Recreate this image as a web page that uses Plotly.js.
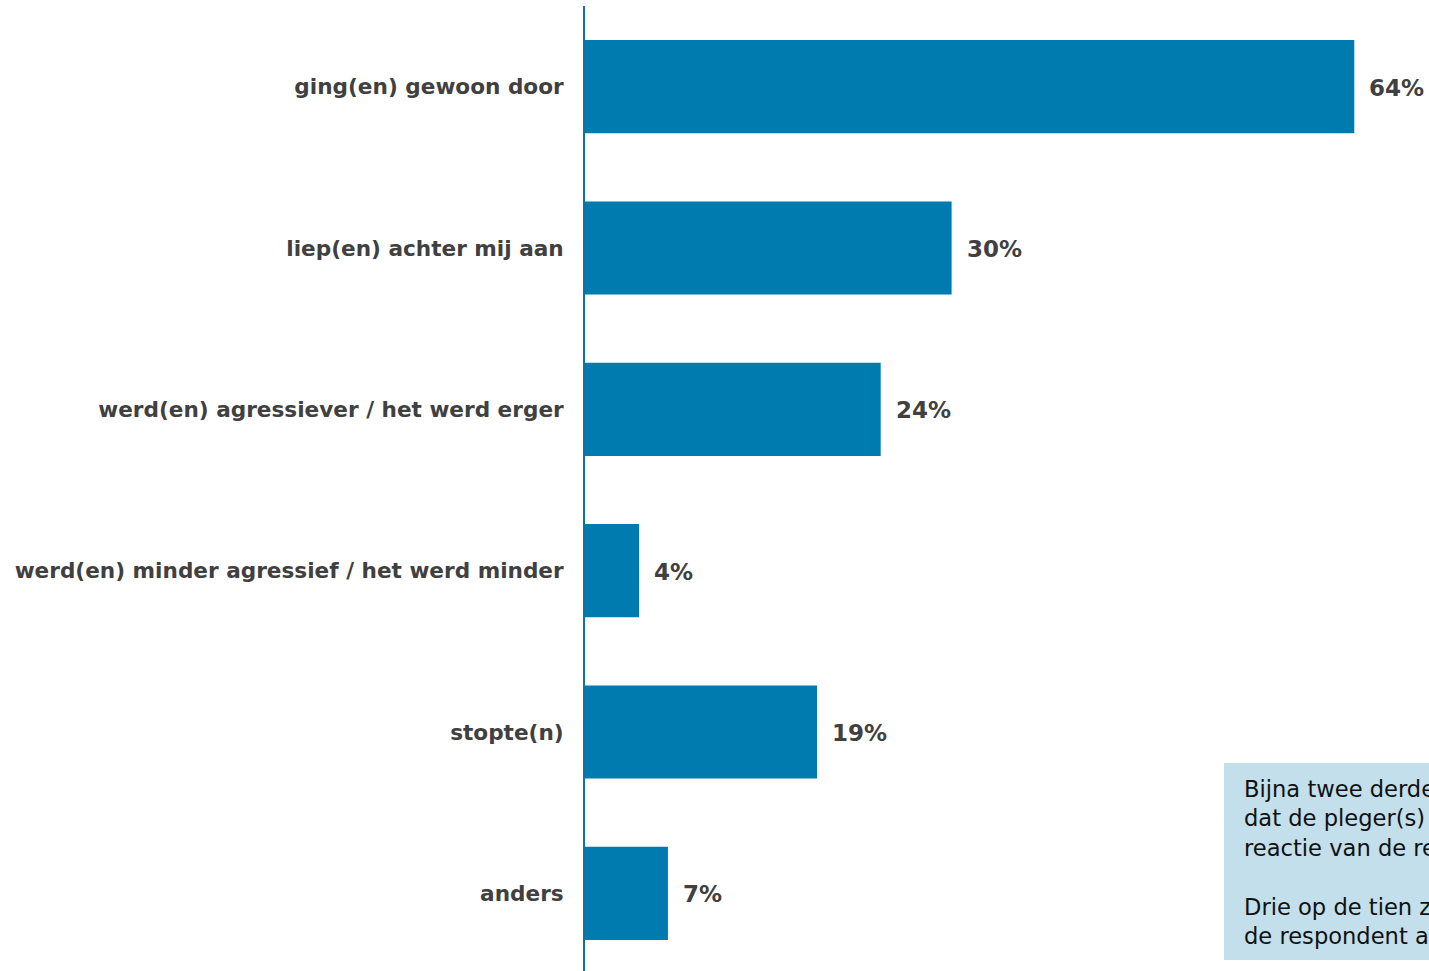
<!DOCTYPE html>
<html>
<head>
<meta charset="utf-8">
<script src="https://cdn.plot.ly/plotly-3.0.1.min.js"></script>
<style>html,body{margin:0;padding:0;background:#fff;overflow:hidden;}#chart{width:1429px;height:974px;}</style>
</head>
<body>
<div id="chart"></div>
<script>
const categories = [
  "ging(en) gewoon door",
  "liep(en) achter mij aan",
  "werd(en) agressiever / het werd erger",
  "werd(en) minder agressief / het werd minder",
  "stopte(n)",
  "anders"
];
const values = [64.0, 30.5, 24.6, 4.5, 19.3, 6.9];
const valueLabels = ["64%", "30%", "24%", "4%", "19%", "7%"];
const noteText = "Bijna twee derde van de respondenten zegt<br>dat de pleger(s) gewoon doorging(en) na de<br>reactie van de respondent.<br><br>Drie op de tien zegt dat de pleger(s) achter<br>de respondent aan liep(en).";

const barColor = "#007BB0";
const labelColor = "#404040";
const fontFam = "Verdana, 'DejaVu Sans', sans-serif";

const trace = {
  type: "bar",
  orientation: "h",
  x: values,
  y: categories,
  marker: {color: barColor},
  width: 0.577,
  hoverinfo: "none"
};

const annotations = values.map((v, i) => ({
  x: v, y: categories[i], xref: "x", yref: "y",
  text: valueLabels[i], showarrow: false,
  xanchor: "left", yanchor: "middle", xshift: 13, yshift: -1,
  font: {family: fontFam, size: 23, color: labelColor, weight: "bold"}
}));

annotations.push({
  xref: "paper", yref: "paper",
  x: (1242 - 585) / 844, y: (974 - 774) / 968,
  xanchor: "left", yanchor: "top", align: "left",
  text: noteText, showarrow: false,
  font: {family: fontFam, size: 22.6, color: "#111111"}
});

const layout = {
  width: 1429, height: 974,
  margin: {l: 585, r: 0, t: 6, b: 0, pad: 0},
  paper_bgcolor: "#ffffff",
  plot_bgcolor: "#ffffff",
  showlegend: false,
  xaxis: {
    range: [0, 844 / 12.02],
    visible: false,
    showgrid: false, zeroline: false
  },
  yaxis: {
    autorange: "reversed",
    showline: true, linecolor: "#0A72A8", linewidth: 2,
    ticks: "", ticklabelstandoff: 15,
    showgrid: false, zeroline: false,
    tickfont: {family: fontFam, size: 21.6, color: labelColor, weight: "bold"}
  },
  shapes: [{
    type: "rect", xref: "paper", yref: "paper", layer: "below",
    x0: (1224 - 585) / 844, x1: 1.2,
    y0: (974 - 960) / 968, y1: (974 - 763) / 968,
    fillcolor: "#C2DFEB", line: {width: 0}
  }],
  annotations: annotations
};

Plotly.newPlot("chart", [trace], layout, {displayModeBar: false, staticPlot: true});
</script>
</body>
</html>
